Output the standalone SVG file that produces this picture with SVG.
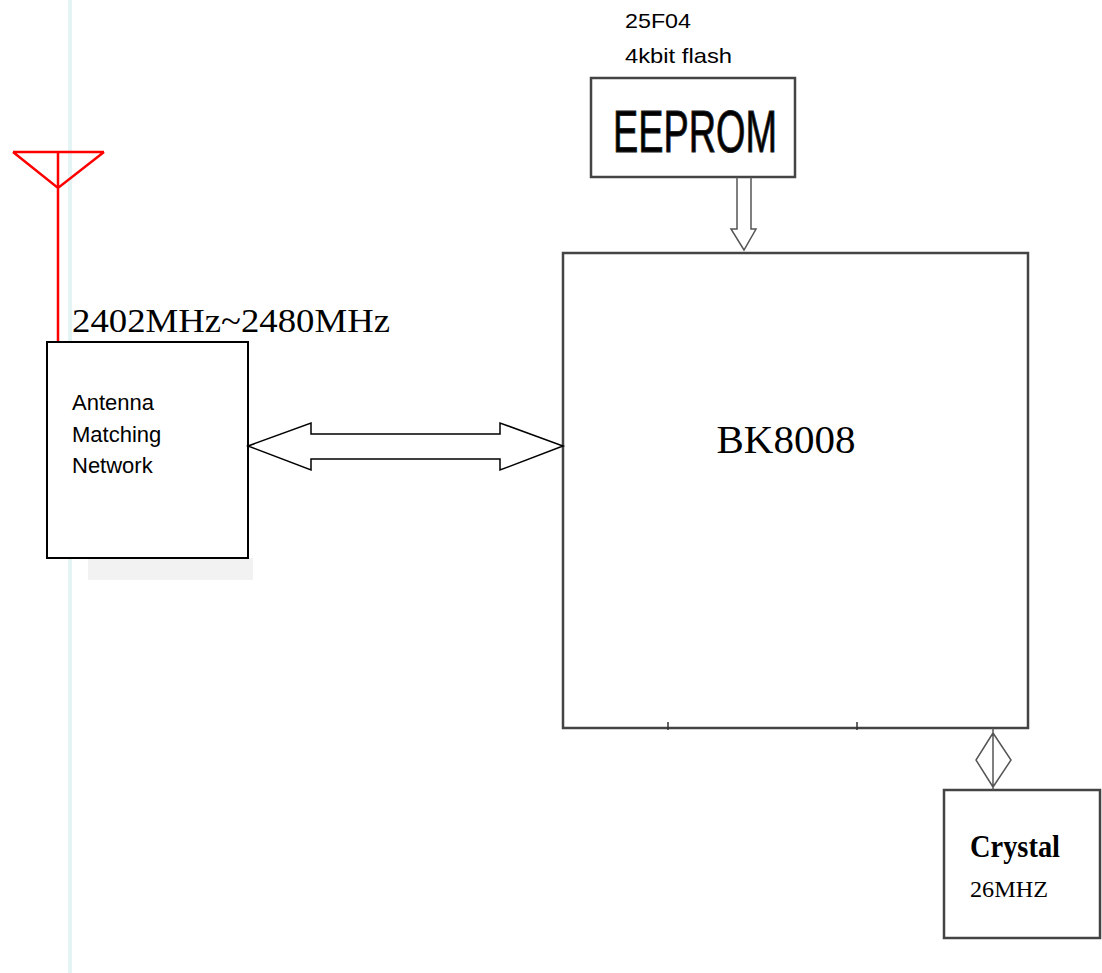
<svg xmlns="http://www.w3.org/2000/svg" width="1102" height="973" viewBox="0 0 1102 973">
<style>
.box{fill:#fff;stroke:#000;stroke-width:2}
.gbox{fill:#fff;stroke:#444;stroke-width:2.5}
.sans{font-family:"Liberation Sans",Arial,sans-serif;fill:#000}
.serif{font-family:"Liberation Serif","Times New Roman",serif;fill:#000}
.conn{fill:#fff;stroke:#000;stroke-width:1.5;stroke-linejoin:miter}
.gconn{fill:none;stroke:#555;stroke-width:1.5}
</style>
<rect width="1102" height="973" fill="#fff"/>
<line x1="70" y1="0" x2="70" y2="973" stroke="#e4f3f4" stroke-width="4"/>
<rect x="88" y="558" width="165" height="22" fill="#f2f2f2"/>
<g id="antenna">
<path d="M13,152 H104 M58,152 V342 M13,152 L58,188 L104,152" fill="none" stroke="#f00" stroke-width="2.5"/>
<text class="serif" x="72" y="332" font-size="34" textLength="318" lengthAdjust="spacingAndGlyphs">2402MHz~2480MHz</text>
</g>
<g id="matching">
<rect class="box" x="47" y="342" width="201" height="216"/>
<text class="sans" x="72" y="410" font-size="22">Antenna</text>
<text class="sans" x="72" y="442" font-size="22">Matching</text>
<text class="sans" x="72" y="473" font-size="22">Network</text>
</g>
<g id="eeprom">
<text class="sans" x="625" y="28" font-size="21" textLength="66" lengthAdjust="spacingAndGlyphs">25F04</text>
<text class="sans" x="625" y="63" font-size="21" textLength="107" lengthAdjust="spacingAndGlyphs">4kbit flash</text>
<rect class="gbox" x="591" y="78" width="204" height="99"/>
<text class="sans" x="613" y="152" font-size="60" textLength="164" lengthAdjust="spacingAndGlyphs" fill="#222" stroke="#222" stroke-width="1">EEPROM</text>
</g>
<g id="bk8008">
<rect class="gbox" x="563" y="253" width="465" height="475"/>
<line x1="668" y1="722" x2="668" y2="730" stroke="#333" stroke-width="1.5"/>
<line x1="857" y1="722" x2="857" y2="730" stroke="#333" stroke-width="1.5"/>
<text class="serif" x="786" y="453" font-size="41" text-anchor="middle">BK8008</text>
</g>
<g id="crystal">
<rect class="gbox" x="944" y="790" width="156" height="148"/>
<text class="serif" x="970" y="857" font-size="31" font-weight="bold" textLength="90" lengthAdjust="spacingAndGlyphs" fill="#222">Crystal</text>
<text class="serif" x="970" y="897" font-size="24" textLength="78" lengthAdjust="spacingAndGlyphs" fill="#333">26MHZ</text>
</g>
<g id="connectors">
<path class="conn" d="M248,446 L311,423 V434 H500 V423 L563,446 L500,470 V459 H311 V470 Z"/>
<path class="gconn" d="M737,177 V229 H731 L744,250 L756,229 H751 V177"/>
<path class="gconn" d="M993,728 V790 M993,733 L976,760 L993,787 L1011,760 Z"/>
</g>
</svg>
